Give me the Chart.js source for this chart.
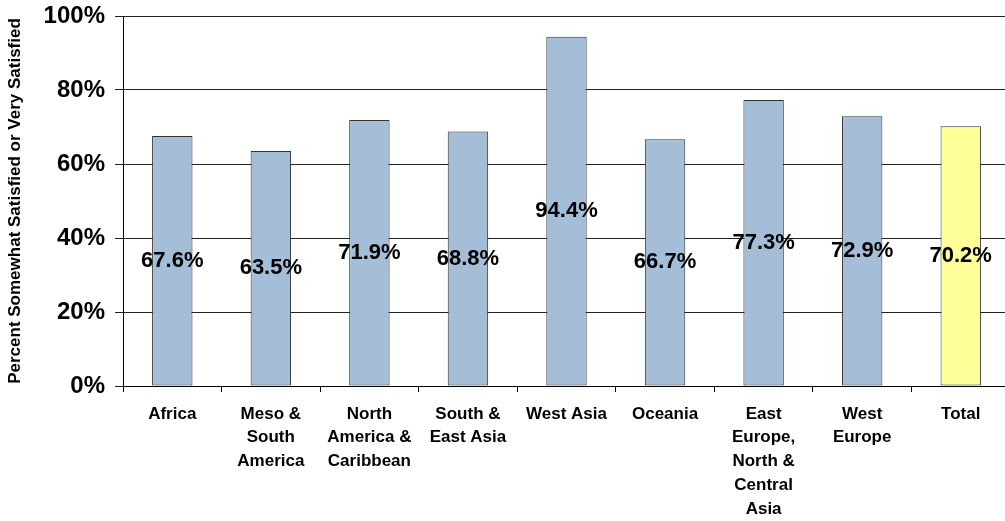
<!DOCTYPE html>
<html>
<head>
<meta charset="utf-8">
<script src="https://cdn.jsdelivr.net/npm/chart.js@4"></script>
<style>
  html, body { margin: 0; padding: 0; background: #fff; overflow: hidden; }
  #wrap { width: 1010px; height: 521px; }
</style>
</head>
<body>
<div id="wrap"><canvas id="grafikKepuasan"></canvas></div>
<script>
const regions = [
    "Africa",
    ["Meso &", "South", "America"],
    ["North", "America &", "Caribbean"],
    ["South &", "East Asia"],
    "West Asia",
    "Oceania",
    ["East", "Europe,", "North &", "Central", "Asia"],
    ["West", "Europe"],
    "Total"
];
const satisfied = [67.6, 63.5, 71.9, 68.8, 94.4, 66.7, 77.3, 72.9, 70.2];
const yTicks = [0, 20, 40, 60, 80, 100];

const blueBar = "#a4bed8";
const totalBar = "#ffff99";
const fontFamily = "Arial, 'Liberation Sans', sans-serif";

// value labels written in the middle of each bar
const labelTengah = {
    id: "labelTengah",
    afterDatasetsDraw(chart) {
        const ctx = chart.ctx;
        const meta = chart.getDatasetMeta(0);
        ctx.save();
        ctx.font = "bold 22px " + fontFamily;
        ctx.fillStyle = "#000";
        ctx.textAlign = "center";
        ctx.textBaseline = "middle";
        meta.data.forEach(function (bar, i) {
            const mid = (bar.y + bar.base) / 2;
            ctx.fillText(satisfied[i].toFixed(1) + "%", bar.x, mid);
        });
        ctx.restore();
    }
};

document.addEventListener("DOMContentLoaded", function () {
    const ctx = document.getElementById("grafikKepuasan").getContext("2d");

    new Chart(ctx, {
        type: "bar",
        data: {
            labels: regions,
            datasets: [{
                data: satisfied,
                backgroundColor: satisfied.map((v, i) => i === satisfied.length - 1 ? totalBar : blueBar),
                borderColor: "#333",
                borderWidth: 1,
                borderSkipped: false,
                barPercentage: 0.41,
                categoryPercentage: 1
            }]
        },
        options: {
            responsive: true,
            maintainAspectRatio: false,
            animation: false,
            layout: { padding: { top: 16, left: 0, right: 0, bottom: 0 } },
            plugins: {
                legend: { display: false },
                tooltip: { enabled: false }
            },
            scales: {
                x: {
                    grid: {
                        drawOnChartArea: false,
                        color: "#000",
                        tickLength: 6,
                        offset: true
                    },
                    border: { color: "#000", width: 1 },
                    ticks: {
                        color: "#000",
                        maxRotation: 0,
                        autoSkip: false,
                        padding: 10,
                        font: { family: fontFamily, size: 17, weight: "bold", lineHeight: 1.4 }
                    },
                    afterFit(scale) {
                        scale.height = 135;
                        scale.paddingLeft = 0;
                        scale.paddingRight = 0;
                    }
                },
                y: {
                    min: 0,
                    max: 100,
                    afterBuildTicks(scale) { scale.ticks = yTicks.map(v => ({ value: v })); },
                    grid: { color: "#222", tickLength: 8 },
                    border: { color: "#000", width: 1 },
                    ticks: {
                        color: "#000",
                        padding: 10,
                        callback: v => v + "%",
                        font: { family: fontFamily, size: 24, weight: "bold" }
                    },
                    title: {
                        display: true,
                        text: "Percent Somewhat Satisfied or Very Satisfied",
                        color: "#000",
                        padding: { top: 5, bottom: 0 },
                        font: { family: fontFamily, size: 17, weight: "bold" }
                    },
                    afterFit(scale) {
                        scale.width = 123;
                        scale.paddingTop = 0;
                        scale.paddingBottom = 0;
                    }
                }
            }
        },
        plugins: [labelTengah]
    });
});
</script>
</body>
</html>
